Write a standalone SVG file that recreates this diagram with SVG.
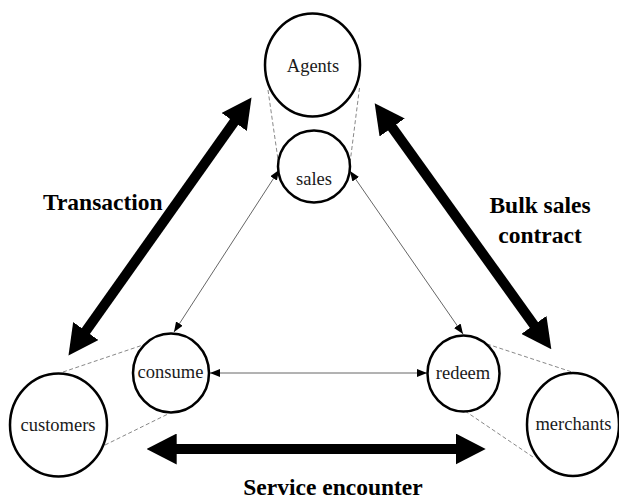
<svg xmlns="http://www.w3.org/2000/svg" width="619" height="502" viewBox="0 0 619 502">
<style>
.node{fill:#fff;stroke:#000;stroke-width:2.5}
.lbl{font-family:"Liberation Serif","Times New Roman",serif;font-size:18.5px;fill:#1a1a1a;text-anchor:middle}
.big{font-family:"Liberation Serif","Times New Roman",serif;font-size:23.5px;font-weight:bold;fill:#000}
.thick{stroke:#000;stroke-width:10;fill:none}
.thin{stroke:#666;stroke-width:1;fill:none}
.dash{stroke:#888;stroke-width:1;stroke-dasharray:4 2.5;fill:none}
</style>
<defs>
<marker id="bigHead" viewBox="0 0 30 31" markerWidth="30" markerHeight="31" refX="8" refY="15.5" orient="auto-start-reverse" markerUnits="userSpaceOnUse">
<path d="M0,0 L30,15.5 L0,31 Z" fill="#000"/>
</marker>
<marker id="smallHead" viewBox="0 0 10 8" markerWidth="10" markerHeight="8" refX="10" refY="4" orient="auto-start-reverse" markerUnits="userSpaceOnUse">
<path d="M0,0 L10,4 L0,8 Z" fill="#000"/>
</marker>
</defs>
<g id="connectors">
<line class="dash" x1="268" y1="90" x2="278.5" y2="163"/>
<line class="dash" x1="359.5" y1="88" x2="350" y2="163"/>
<line class="dash" x1="63" y1="372" x2="143" y2="345"/>
<line class="dash" x1="105" y1="445" x2="168" y2="414"/>
<line class="dash" x1="487" y1="344" x2="572" y2="372"/>
<line class="dash" x1="465" y1="411" x2="533" y2="457"/>
<line class="thin" x1="174" y1="332" x2="279" y2="170" marker-start="url(#smallHead)" marker-end="url(#smallHead)"/>
<line class="thin" x1="350" y1="171" x2="463" y2="334" marker-start="url(#smallHead)" marker-end="url(#smallHead)"/>
<line class="thin" x1="210" y1="373" x2="427" y2="373" marker-start="url(#smallHead)" marker-end="url(#smallHead)"/>
<line class="thick" x1="81.2" y1="337.6" x2="238.8" y2="115.4" marker-start="url(#bigHead)" marker-end="url(#bigHead)"/>
<line class="thick" x1="387.5" y1="121" x2="538.5" y2="331.4" marker-start="url(#bigHead)" marker-end="url(#bigHead)"/>
<line class="thick" x1="168.7" y1="449" x2="463.7" y2="449" marker-start="url(#bigHead)" marker-end="url(#bigHead)"/>
</g>
<g id="agents"><ellipse class="node" cx="312.5" cy="65" rx="47.5" ry="51.5"/><text class="lbl" x="313" y="72" font-size="19.5">Agents</text></g>
<g id="sales"><circle class="node" cx="314" cy="166.5" r="36"/><text class="lbl" x="314" y="185" font-size="19.5">sales</text></g>
<g id="customers"><ellipse class="node" cx="58.5" cy="425" rx="48.5" ry="51.5"/><text class="lbl" x="58" y="431">customers</text></g>
<g id="consume"><ellipse class="node" cx="171" cy="373" rx="38" ry="39.5"/><text class="lbl" x="170.5" y="378">consume</text></g>
<g id="redeem"><ellipse class="node" cx="463.5" cy="373.5" rx="36" ry="38"/><text class="lbl" x="463" y="379">redeem</text></g>
<g id="merchants"><ellipse class="node" cx="573" cy="424.5" rx="46" ry="51.5"/><text class="lbl" x="573.5" y="430">merchants</text></g>
<g id="labels">
<text class="big" x="43" y="210">Transaction</text>
<text class="big" x="540" y="213" text-anchor="middle">Bulk sales</text>
<text class="big" x="540" y="243" text-anchor="middle">contract</text>
<text class="big" x="333" y="495" text-anchor="middle">Service encounter</text>
</g>
</svg>
